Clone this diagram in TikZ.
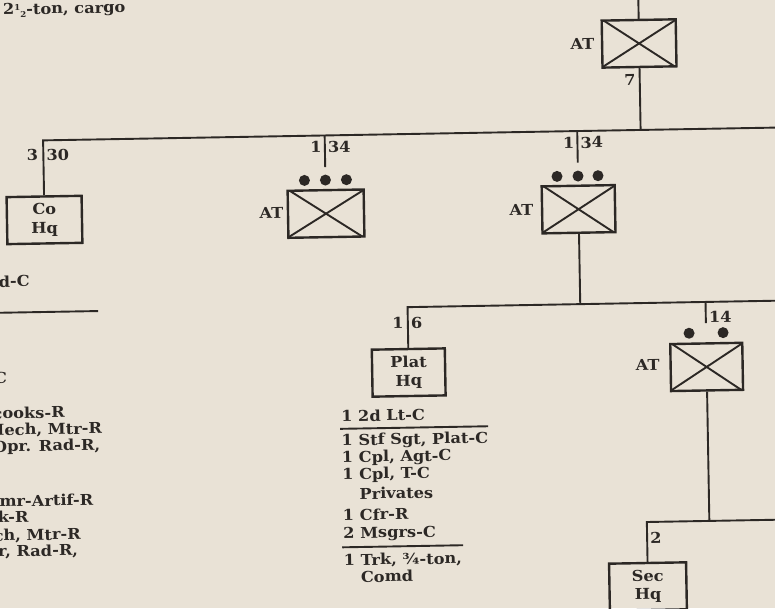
\documentclass[tikz,border=0pt]{standalone}
\usepackage{fontspec}
\setmainfont{DejaVu Serif}[FakeStretch=1.08]
\usetikzlibrary{calc}
\definecolor{paper}{RGB}{233,226,214}
\definecolor{ink}{RGB}{44,40,37}
\tikzset{
  txt/.style={text=ink, font=\fontsize{15}{18.5}\selectfont\bfseries, inner sep=0pt},
  lst/.style={txt, anchor=mid west},
  lstr/.style={txt, anchor=mid east},
  conn/.style={draw=ink, line width=1.9pt},
  atbox/.style={draw=ink, line width=2.4pt, minimum width=#1, minimum height=47pt, inner sep=0pt,
    path picture={\draw[ink, line width=1.9pt]
      (path picture bounding box.north west) -- (path picture bounding box.south east)
      (path picture bounding box.south west) -- (path picture bounding box.north east);}},
  atbox/.default=74pt,
  hqbox/.style={txt, draw=ink, line width=2.4pt, minimum width=75pt, minimum height=47pt, align=center},
  pip/.style={circle, fill=ink, minimum size=11pt, inner sep=0pt},
}
\newcommand{\numcol}[1]{\makebox[17pt][l]{#1}}
\begin{document}
\begin{tikzpicture}[x=1pt,y=-1pt]
\fill[paper] (0,0) rectangle (775,608);
\useasboundingbox (0,0) rectangle (775,608);
\begin{scope}[rotate around={1:(387,304)}, transform shape]
% top title fragment
\node[txt, anchor=base west] (cargo) at (8,8) {2\raisebox{0.55ex}{\footnotesize 1}\raisebox{-0.35ex}{\footnotesize 2}-ton, cargo};
% top AT
\node[atbox=74pt] (topat) at (643.6,47.9) {};
\node[txt] (topatl) at (587,47.4) {AT};
\coordinate (toptop) at (643.6,-20);
\coordinate (jtop) at (643.6,134.4);
\draw[conn] (toptop) -- (topat.north);
\draw[conn] (topat.south) -- (jtop);
\node[txt, anchor=east] (n7) at (639.6,84.2) {7};
% main line and Co Hq
\coordinate (jco) at (46,134.4);
\coordinate (mainr) at (800,134.4);
\node[hqbox] (cohq) at (46,214) {Co\\Hq};
\draw[conn] (mainr) -- (jco) -- (cohq.north);
\node[txt, anchor=east] (n3) at (41,149) {3};
\node[txt, anchor=west] (n30) at (49,149) {30};
\node[lstr] (dc) at (30.4,277.8) {d-C};
\coordinate (lrl) at (-20,306);
\coordinate (lrr) at (98,306);
\draw[conn] (lrl) -- (lrr);
% left list fragments
\node[lstr] (l1) at (6,374) {C};
\node[lstr] (l2) at (63,409.5) {cooks-R};
\node[lstr] (l3) at (100,426) {Mech, Mtr-R};
\node[lstr] (l4) at (98,442.5) {Opr. Rad-R,};
\node[lstr] (l5) at (90,497.5) {mr-Artif-R};
\node[lstr] (l6) at (25,513.5) {k-R};
\node[lstr] (l7) at (77,531.5) {ch, Mtr-R};
\node[lstr] (l8) at (74,547.5) {r, Rad-R,};
% AT 1
\node[atbox=76pt] (at1) at (327.6,212.6) {};
\node[txt] (at1l) at (273,211) {AT};
\coordinate (j1) at (327.6,134.4);
\coordinate (e1) at (327.6,166);
\draw[conn] (j1) -- (e1);
\node[pip] (d1a) at (306.6,179) {};
\node[pip] (d1b) at (327.6,179) {};
\node[pip] (d1c) at (348.6,179) {};
\node[txt, anchor=east] (n1a) at (324.6,146) {1};
\node[txt, anchor=west] (n34a) at (330.6,146) {34};
% AT 2
\node[atbox=73pt] (at2) at (580.2,212.6) {};
\node[txt] (at2l) at (523,212.4) {AT};
\coordinate (j2) at (580.2,134.4);
\coordinate (e2) at (580.2,166);
\draw[conn] (j2) -- (e2);
\node[pip] (d2a) at (559.2,179.4) {};
\node[pip] (d2b) at (580.2,179.4) {};
\node[pip] (d2c) at (600.2,179.4) {};
\node[txt, anchor=east] (n1b) at (577.2,146) {1};
\node[txt, anchor=west] (n34b) at (583.2,146) {34};
% platoon line
\coordinate (jp2) at (580.2,307.5);
\draw[conn] (at2.south) -- (jp2);
\coordinate (jplat) at (407.5,307.5);
\coordinate (platr) at (800,307.5);
\node[hqbox, minimum width=73pt] (plathq) at (407.5,372.9) {Plat\\Hq};
\draw[conn] (platr) -- (jplat) -- (plathq.north);
\node[txt, anchor=east] (n1c) at (403.5,323.3) {1};
\node[txt, anchor=west] (n6) at (410.5,323.3) {6};
% platoon hq list
\node[lst] (p1) at (339,418.2) {\numcol{1}2d Lt-C};
\coordinate (r1l) at (338,428);
\coordinate (r1r) at (486,428);
\draw[conn] (r1l) -- (r1r);
\node[lst] (p2) at (339,442.2) {\numcol{1}Stf Sgt, Plat-C};
\node[lst] (p3) at (339,459.2) {\numcol{1}Cpl, Agt-C};
\node[lst] (p4) at (339,476.2) {\numcol{1}Cpl, T-C};
\node[lst] (p5) at (339,496.2) {\numcol{}Privates};
\node[lst] (p6) at (339,517.2) {\numcol{1}Cfr-R};
\node[lst] (p7) at (339,535.2) {\numcol{2}Msgrs-C};
\coordinate (r2l) at (338,546.5);
\coordinate (r2r) at (459,546.5);
\draw[conn] (r2l) -- (r2r);
\node[lst] (p8) at (339,562.2) {\numcol{1}Trk, ¾-ton,};
\node[lst] (p9) at (339,579.2) {\numcol{}Comd};
% AT 3 (section)
\node[atbox=72pt] (at3) at (705.5,372.5) {};
\node[txt] (at3l) at (646.5,369.6) {AT};
\coordinate (jp3) at (705.5,307.5);
\coordinate (e3) at (705.5,328.6);
\draw[conn] (jp3) -- (e3);
\node[pip] (d3a) at (688.5,338.5) {};
\node[pip] (d3b) at (722.5,338.5) {};
\node[txt, anchor=west] (n14) at (708.5,322.8) {14};
% section line and Sec Hq
\coordinate (js3) at (705.5,526.5);
\draw[conn] (at3.south) -- (js3);
\coordinate (jsec) at (643,526.5);
\coordinate (secr) at (800,526.5);
\node[hqbox, minimum width=77pt] (sechq) at (643,591) {Sec\\Hq};
\draw[conn] (secr) -- (jsec) -- (sechq.north);
\node[txt, anchor=west] (n2) at (646,542.7) {2};
\end{scope}
\end{tikzpicture}
\end{document}
